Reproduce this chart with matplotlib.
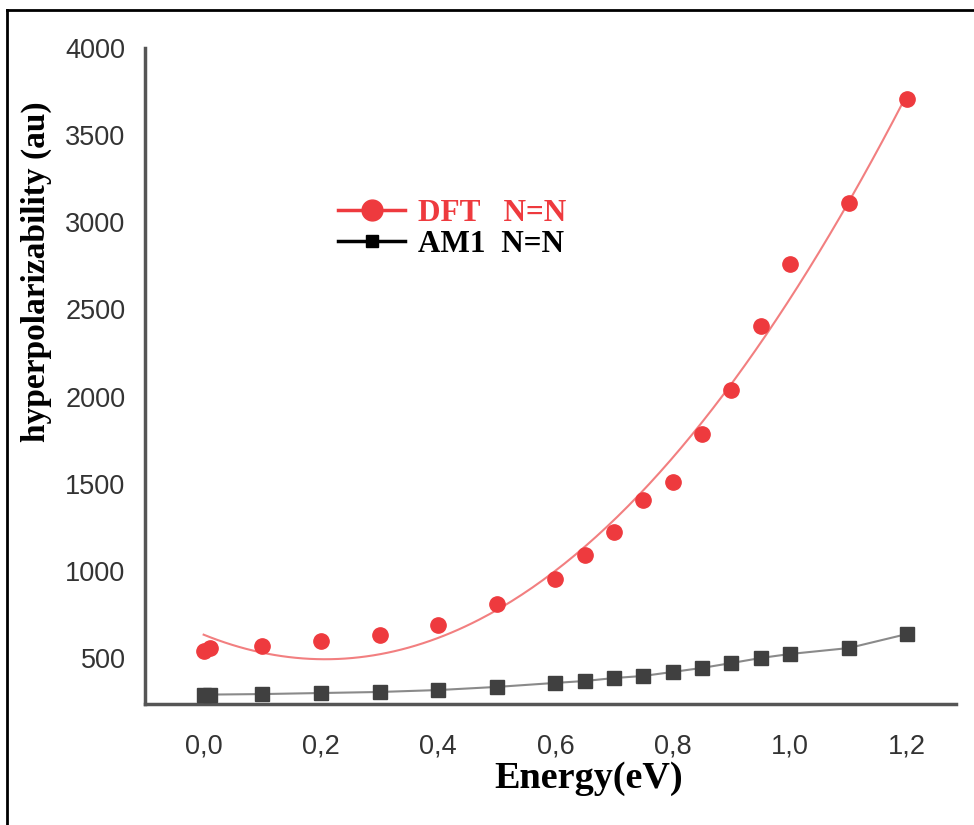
import numpy as np
import matplotlib
matplotlib.use("Agg")
import matplotlib.pyplot as plt
from matplotlib.lines import Line2D

# ---- data ----
energy = [0.0, 0.01, 0.1, 0.2, 0.3, 0.4, 0.5, 0.6, 0.65, 0.7, 0.75, 0.8, 0.85, 0.9, 0.95, 1.0, 1.1, 1.2]
dft = [540, 557, 569, 598, 632, 689, 810, 953, 1091, 1223, 1407, 1510, 1785, 2038, 2405, 2761, 3111, 3707]
am1 = [288, 290, 293, 299, 305, 316, 334, 357, 368, 385, 397, 420, 443, 471, 500, 523, 557, 638]
xticks = [0.0, 0.2, 0.4, 0.6, 0.8, 1.0, 1.2]
xtick_labels = ["0,0", "0,2", "0,4", "0,6", "0,8", "1,0", "1,2"]
yticks = [500, 1000, 1500, 2000, 2500, 3000, 3500, 4000]
legend_labels = ["DFT   N=N", "AM1  N=N"]

W, H = 974, 825
fig = plt.figure(figsize=(W / 100, H / 100), dpi=100)
ax = fig.add_axes([145 / W, 1 - 704 / H, (956 - 145) / W, (704 - 48) / H])

red = "#ee3a3e"
dark = "#404040"

# polynomial trendline for DFT
coef = np.polyfit(energy, dft, 2)
xf = np.linspace(0.0, 1.2, 200)
ax.plot(xf, np.polyval(coef, xf), color="#f27f80", lw=1.5, zorder=2)
ax.plot(energy, dft, "o", color=red, ms=11, mec=red, zorder=3)

ax.plot(energy, am1, "-", color="#8a8a8a", lw=1.5, zorder=2)
ax.plot(energy, am1, "s", color=dark, ms=10, zorder=3)

ax.set_xlim(-0.1, 1.283)
ax.set_ylim(236, 4000)
ax.set_xticks(xticks)
ax.set_xticklabels(xtick_labels)
ax.set_yticks(yticks)

for s in ["top", "right"]:
    ax.spines[s].set_visible(False)
for s in ["left", "bottom"]:
    ax.spines[s].set_color("#555555")
    ax.spines[s].set_linewidth(2.5)
ax.tick_params(length=0, labelsize=19.5, labelcolor="#333333")
ax.tick_params(axis="y", pad=14)
ax.tick_params(axis="x", pad=21)
for lab in ax.get_xticklabels() + ax.get_yticklabels():
    lab.set_family("Liberation Sans")

fig.text(36 / W, 1 - 272 / H, "hyperpolarizability (au)", rotation=90,
         ha="center", va="center", family="Liberation Serif", weight="bold", fontsize=24)
fig.text(589 / W, 1 - 779 / H, "Energy(eV)", ha="center", va="center",
         family="Liberation Serif", weight="bold", fontsize=27.5)

handles = [
    Line2D([], [], color=red, lw=2.5, marker="o", ms=15, mec=red),
    Line2D([], [], color="black", lw=2.5, marker="s", ms=9, mfc="black", mec="black"),
]
leg = ax.legend(handles, legend_labels, loc="upper left",
                bbox_to_anchor=((338 - 145) / (956 - 145), 1 - (199 - 48) / (704 - 48)),
                frameon=False, handlelength=2.15, handletextpad=0.4, labelspacing=0.07,
                borderpad=0, borderaxespad=0,
                prop={"family": "Liberation Serif", "weight": "bold", "size": 22.5})
leg.get_texts()[0].set_color(red)
leg.get_texts()[1].set_color("black")

# outer frame (left and top edges visible)
fig.add_artist(Line2D([7 / W, 7 / W], [0, 1 - 10 / H], transform=fig.transFigure, color="black", lw=2))
fig.add_artist(Line2D([7 / W, 1.0], [1 - 10 / H, 1 - 10 / H], transform=fig.transFigure, color="black", lw=2))

fig.savefig("out.png", dpi=100, facecolor="white")
